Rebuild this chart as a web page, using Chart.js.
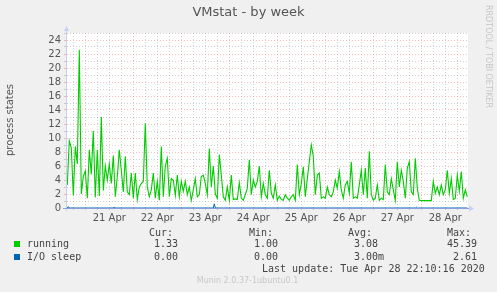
<!DOCTYPE html>
<html>
<head>
<meta charset="utf-8">
<title>VMstat - by week</title>
<script src="https://cdn.jsdelivr.net/npm/chart.js@4.4.1/dist/chart.umd.min.js"></script>
<style>
  html, body { margin: 0; padding: 0; background: #f0f0f0; }
  #wrap { position: relative; width: 497px; height: 292px; overflow: hidden; font-family: 'DejaVu Sans', sans-serif; color: #555; }
  #chart { position: absolute; left: 0; top: 0; }
  .t { position: absolute; white-space: pre; }
  .mono { font-family: 'DejaVu Sans Mono', monospace; font-size: 10px; line-height: 12px; color: #444; }
  .swatch { position: absolute; width: 6px; height: 6px; }
</style>
</head>
<body>
<div id="wrap">
  <canvas id="chart" width="497" height="292"></canvas>
  <div class="t" id="title" style="left:0; top:4px; width:497px; text-align:center; font-size:13px; line-height:16px; color:#555;">VMstat - by week</div>
  <div class="t" id="ytitle" style="left:-50px; top:114px; width:120px; text-align:center; font-size:10px; line-height:12px; color:#555; transform:rotate(-90deg);">process states</div>
  <div class="t" id="watermark" style="left:483px; top:5px; font-size:8px; line-height:10px; color:#c6c6c6; writing-mode:vertical-rl;">RRDTOOL / TOBI OETIKER</div>
  <div id="legend"></div>
  <div class="t mono" id="updated" style="left:262px; top:263px;">Last update: Tue Apr 28 22:10:16 2020</div>
  <div class="t" id="version" style="left:0; top:276px; width:495px; text-align:center; font-size:8px; line-height:10px; color:#c8c8c8;">Munin 2.0.37-1ubuntu0.1</div>
</div>
<script>
// hours counted from 20 Apr 00:00, one sample per hour
const runStartHour = 15;
const runStepHours = 1;

const running = [
  3.3, 9.6, 8.6, 1.8, 8.8, 6.3, 22.6, 2.0, 4.5, 5.3, 1.4, 8.3, 4.8, 11.0, 1.5, 8.3,
  1.7, 13.0, 2.5, 6.0, 4.0, 6.3, 3.5, 7.5, 1.6, 4.5, 8.3,
  5.4, 2.3, 7.4, 2.3, 1.9, 5.0, 1.4, 5.0, 1.2, 3.0, 3.5, 3.8, 12.1, 3.0, 1.6, 2.6,
  5.0, 1.4, 3.8, 1.1, 8.8, 1.6, 6.0, 7.1,
  1.6, 4.2, 4.0, 1.8, 4.7, 1.6, 3.8, 2.4, 3.8, 1.9, 3.0, 1.1, 2.6, 4.2, 1.6, 1.9,
  4.5, 4.7, 3.5, 1.9, 8.5, 3.0, 6.0, 2.0, 1.4, 7.6, 4.7, 1.6, 1.1, 3.0, 1.1, 4.7,
  1.2, 1.3, 1.2, 3.6, 1.4, 1.1, 1.9, 2.8, 6.9, 1.9, 4.0, 3.0, 3.8, 6.0, 1.6, 3.5,
  1.9, 1.4, 5.4,
  2.1, 1.4, 3.3, 1.1, 1.7, 1.2, 1.1, 1.9, 1.4, 1.1, 1.6, 1.9, 1.1, 6.2, 1.9, 3.5,
  5.9, 1.6, 4.2, 6.6, 9.0, 7.4, 1.9, 4.7, 5.0, 1.4, 1.6, 1.4, 3.0, 1.9, 1.6, 2.3,
  4.0, 2.8, 5.2, 2.6, 1.4, 3.3, 3.8, 2.1, 6.6, 1.4, 1.6, 1.4, 3.3, 5.4, 1.9, 5.7,
  1.4, 8.1, 1.9,
  1.1, 1.4, 3.3, 1.1, 1.4, 1.2, 6.2, 2.3, 1.9, 4.2, 2.6, 1.1, 6.6, 3.0, 5.4, 3.8,
  1.4, 5.7, 6.6, 2.3, 1.9, 7.1, 2.8, 1.1,
  1.05, 1.05, 1.05, 1.05, 1.05, 1.05,
  3.8, 2.1, 3.0, 1.9, 3.3, 1.9, 2.6, 5.4, 2.1, 4.2, 1.2, 1.4, 4.7, 2.4, 5.2, 1.4,
  2.6, 1.6
];

const ioHours = [15, 15.5, 16, 38, 38.5, 39, 88, 88.5, 89, 189, 189.5, 190, 215];
const ioValues = [0, 0.2, 0, 0, 0.15, 0, 0, 0.6, 0, 0, 0.12, 0, 0];

const dayLabels = ['21 Apr', '22 Apr', '23 Apr', '24 Apr', '25 Apr', '26 Apr', '27 Apr', '28 Apr'];
const xMin = 14.85;
const xMax = 215.35;
const yMax = 25;

const seriesNames = ['running', 'I/O sleep'];
const seriesColors = ['#00cc00', '#0066b3'];
const curValues = ['1.33', '0.00'];
const minValues = ['1.00', '0.00'];
const avgValues = ['3.08', '3.00m'];
const maxValues = ['45.39', '2.61'];

const majorGrid = 'rgba(235, 100, 100, 0.42)';
const minorGrid = 'rgba(140, 140, 140, 0.4)';

Chart.defaults.font.family = "'DejaVu Sans', sans-serif";

// white plot area, axis lines + arrows on top of the data
const muninFrame = {
  id: 'muninFrame',
  beforeDraw(chart) {
    const { ctx, chartArea: a } = chart;
    ctx.save();
    ctx.fillStyle = '#ffffff';
    ctx.fillRect(a.left, a.top, a.right - a.left, a.bottom - a.top);
    ctx.restore();
  },
  afterDatasetsDraw(chart) {
    const { ctx, chartArea: a } = chart;
    const lx = a.left - 0.5;
    const by = a.bottom + 0.5;
    ctx.save();
    ctx.lineWidth = 1;
    ctx.strokeStyle = '#c8cff4';
    ctx.beginPath();
    ctx.moveTo(lx, a.bottom + 3);
    ctx.lineTo(lx, a.top - 4);
    ctx.stroke();
    ctx.strokeStyle = '#86a3e0';
    ctx.beginPath();
    ctx.moveTo(a.left - 4, by);
    ctx.lineTo(a.right + 1, by);
    ctx.stroke();
    ctx.fillStyle = '#c8cff4';
    ctx.beginPath();
    ctx.moveTo(lx - 2.5, a.top - 2);
    ctx.lineTo(lx + 2.5, a.top - 2);
    ctx.lineTo(lx, a.top - 7);
    ctx.closePath();
    ctx.fill();
    ctx.beginPath();
    ctx.moveTo(a.right + 1, by - 3);
    ctx.lineTo(a.right + 1, by + 3);
    ctx.lineTo(a.right + 6, by);
    ctx.closePath();
    ctx.fill();
    ctx.restore();
  }
};

new Chart(document.getElementById('chart'), {
  type: 'line',
  data: {
    datasets: [
      {
        label: seriesNames[0],
        data: running.map((v, i) => ({ x: runStartHour + i * runStepHours, y: v })),
        borderColor: seriesColors[0],
        borderWidth: 1.1,
        pointRadius: 0,
        tension: 0,
        fill: false
      },
      {
        label: seriesNames[1],
        data: ioHours.map((h, i) => ({ x: h, y: ioValues[i] })),
        borderColor: seriesColors[1],
        borderWidth: 1,
        pointRadius: 0,
        tension: 0,
        fill: false
      }
    ]
  },
  options: {
    responsive: false,
    animation: false,
    devicePixelRatio: 1,
    layout: { padding: { top: 33, right: 29, left: 0, bottom: 0 } },
    plugins: {
      legend: { display: false },
      title: { display: false },
      tooltip: { enabled: false }
    },
    scales: {
      x: {
        type: 'linear',
        min: xMin,
        max: xMax,
        afterBuildTicks: (scale) => {
          const ticks = [];
          for (let h = 18; h < xMax; h += 6) ticks.push({ value: h });
          scale.ticks = ticks;
        },
        afterFit: (scale) => { scale.height = 84; },
        ticks: {
          autoSkip: false,
          maxRotation: 0,
          padding: 2,
          color: '#555',
          font: { size: 10 },
          callback: (value) => ((value - 12) % 24 === 0 ? dayLabels[(value - 36) / 24] : '')
        },
        grid: {
          color: (c) => (c.tick && c.tick.value % 24 === 0 ? majorGrid : minorGrid),
          tickLength: 2
        },
        border: { display: false, dash: [1, 2] }
      },
      y: {
        min: 0,
        max: yMax,
        afterBuildTicks: (scale) => {
          const ticks = [];
          for (let v = 0; v <= yMax; v++) ticks.push({ value: v });
          scale.ticks = ticks;
        },
        afterFit: (scale) => { scale.width = 67; },
        ticks: {
          autoSkip: false,
          padding: 3,
          color: '#555',
          font: { size: 10 },
          callback: (value) => (value % 2 === 0 ? String(value) : '')
        },
        grid: {
          color: (c) => (c.tick && c.tick.value % 2 === 0 ? majorGrid : minorGrid),
          tickLength: 3
        },
        border: { display: false, dash: [1, 2] }
      }
    }
  },
  plugins: [muninFrame]
});

// legend table below the chart
const legend = document.getElementById('legend');
const headers = [['Cur:', 149], ['Min:', 249], ['Avg:', 348], ['Max:', 447]];
headers.forEach(([text, left]) => {
  const el = document.createElement('div');
  el.className = 't mono';
  el.style.left = left + 'px';
  el.style.top = '227px';
  el.textContent = text;
  legend.appendChild(el);
});

const rowTops = [238, 251];
seriesNames.forEach((name, i) => {
  const sw = document.createElement('div');
  sw.className = 'swatch';
  sw.style.left = '14px';
  sw.style.top = (rowTops[i] + 3) + 'px';
  sw.style.background = seriesColors[i];
  legend.appendChild(sw);

  const cells = [
    [name, 27, 'left'],
    [curValues[i], 154, 'left'],
    [minValues[i], 254, 'left'],
    [avgValues[i], 354, 'left'],
    [maxValues[i], 477, 'right']
  ];
  cells.forEach(([text, x, align]) => {
    const el = document.createElement('div');
    el.className = 't mono';
    el.style.top = rowTops[i] + 'px';
    if (align === 'right') el.style.right = (497 - x) + 'px';
    else el.style.left = x + 'px';
    el.textContent = text;
    legend.appendChild(el);
  });
});
</script>
</body>
</html>
